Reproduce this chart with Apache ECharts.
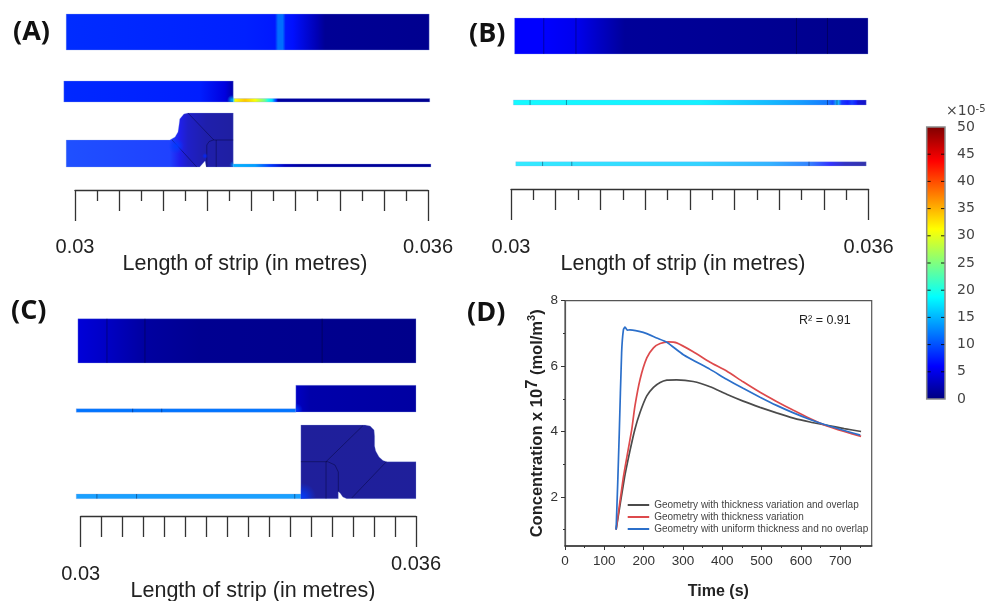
<!DOCTYPE html>
<html><head><meta charset="utf-8">
<style>html,body{margin:0;padding:0;background:#fff}#c{width:989px;height:601px}</style>
<script src="https://cdn.jsdelivr.net/npm/echarts@6/dist/echarts.min.js"></script>
</head><body><div id="c"></div>
<script>
// ---------- Panel D: concentration curves (time s, concentration x10^7 mol/m3) ----------
const SERIES_NAMES = ['Geometry with thickness variation and overlap','Geometry with thickness variation','Geometry with uniform thickness and no overlap'];
const CURVE_OVERLAP = [[130,1],[151,2.57],[165,3.4],[178,4.08],[191,4.59],[208,5.09],[225,5.35],[242,5.5],[259,5.57],[284,5.58],[326,5.53],[369,5.37],[411,5.14],[453,4.93],[496,4.74],[538,4.57],[581,4.41],[623,4.29],[666,4.19],[710,4.09],[753,4.0]];
const CURVE_VARIATION = [[130,1],[148,2.57],[160,3.4],[170,4.08],[178,4.79],[191,5.6],[208,6.25],[225,6.56],[242,6.69],[263,6.74],[284,6.71],[326,6.44],[369,6.12],[411,5.85],[453,5.52],[496,5.2],[538,4.92],[581,4.65],[623,4.4],[666,4.17],[710,4.0],[753,3.85]];
const CURVE_UNIFORM = [[130,1],[134,2.4],[138,3.95],[144,6.41],[148.5,7.11],[152.7,7.19],[158.6,7.10],[165,7.11],[199,7.03],[233,6.86],[259,6.73],[301,6.35],[369,5.9],[411,5.6],[453,5.32],[496,5.05],[538,4.8],[581,4.57],[623,4.37],[666,4.19],[710,4.03],[751,3.89]];
const D_X_TICKS = [0,100,200,300,400,500,600,700];
const D_X_MINOR = [50,150,250,350,450,550,650,750];
const D_Y_TICKS = [2,4,6,8];
const D_Y_MINOR = [1,3,5,7];

// ---------- Rulers (metres) ----------
const RULER_ENDS = [0.03,0.036];
const RULER_MEDIUM = [0.03075,0.0315,0.03225,0.033,0.03375,0.0345,0.03525];
const RULER_SHORT = [0.030375,0.031125,0.031875,0.032625,0.033375,0.034125,0.034875,0.035625];

// ---------- Colour scale ticks ----------
const SCALE_TICKS = [5,10,15,20,25,30,35,40,45];
const JET_VALUES = [0,6,18.75,31.25,43.75,50];

// ---------- Panel A geometry: x in mm along the strip, y in drawing units; values x10^-5 ----------
const A1_OUTLINE = [[29.85,14],[36.02,14],[36.02,50],[29.85,50]];
const A1_X = [29.85,32.9,33.40,33.45,33.53,33.58,33.7,34.11,34.25,36.02];
const A1_V = [8.2,7.6,7.2,11.5,11.5,7.2,6.8,2.5,1,0.7];
const A2_THICK_OUTLINE = [[29.81,81],[32.69,81],[32.69,102],[29.81,102]];
const A2_THICK_X = [29.81,32.12,32.55,32.69];
const A2_THICK_V = [8,7.5,4.5,2];
const A2_THIN_OUTLINE = [[32.69,98.5],[36.03,98.5],[36.03,102],[32.69,102]];
const A2_THIN_X = [32.69,32.72,32.89,33.06,33.23,33.28,33.35,33.42,33.45,36.03];
const A2_THIN_V = [20,31,34,31,24,20,17,8,1.5,0.8];
const A3_OUTLINE = [[29.85,140],[31.61,140],[31.70,137],[31.75,132],[31.77,124],[31.78,119],[31.85,114],[31.92,113],[32.69,113],[32.69,167],[32.23,167],[32.21,161],[32.18,163],[32.12,167],[29.85,167]];
const A3_X = [29.85,31.61,31.78,31.92,32.23,32.69];
const A3_V = [8.8,8,5,3,1.5,1];
const A3_THIN_OUTLINE = [[32.69,164],[36.05,164],[36.05,167],[32.69,167]];
const A3_THIN_X = [32.69,33.06,33.31,33.57,33.82,36.05];
const A3_THIN_V = [15,14,9,3,1.5,1];
const A3_MESH = [[[31.65,140],[32.07,167]],[[31.92,113],[32.36,140]],[[32.24,167],[32.24,145],[32.28,141.5],[32.35,140],[32.69,140]],[[32.40,140],[32.40,167]]];
// glow: centre x, y, radius, value, then the box it stays inside
const A_GLOWS = [[32.67,100,5,15,32.55,95,32.69,102],[32.69,165,4,13,32.6,160,32.69,167],[32.21,156,3,8,32.15,152,32.27,160],[31.72,146,8,9,31.6,140,31.85,156]];

// ---------- Panel B ----------
const B1_OUTLINE = [[30.06,18],[35.99,18],[35.99,54],[30.06,54]];
const B1_X = [30.06,30.55,31.09,31.49,31.91,35.99];
const B1_V = [6,6,5.2,3.2,1.2,0.6];
const B1_MESH = [[[30.55,18],[30.55,54]],[[31.09,18],[31.09,54]],[[34.79,18],[34.79,54]],[[35.31,18],[35.31,54]]];
const B2_OUTLINE = [[30.04,100],[35.96,100],[35.96,105],[30.04,105]];
const B2_X = [30.04,33.17,34.35,34.85,35.31,35.40,35.47,35.49,35.55,35.65,35.72,35.79,35.82,35.96];
const B2_V = [18.5,18,15,13.5,11.5,9,15,15,8,6.5,8.5,6.5,4,3];
const B2_MESH = [[[30.32,100],[30.32,105]],[[30.93,100],[30.93,105]],[[35.31,100],[35.31,105]],[[35.47,100],[35.47,105]]];
const B3_OUTLINE = [[30.08,161.7],[35.96,161.7],[35.96,166],[30.08,166]];
const B3_X = [30.08,33.17,34.35,35.0,35.35,35.60,35.96];
const B3_V = [17.5,16,14,11,6,2.5,1];
const B3_MESH = [[[30.53,161.7],[30.53,166]],[[31.02,161.7],[31.02,166]],[[35.0,161.7],[35.0,166]]];

// ---------- Panel C ----------
const C1_OUTLINE = [[29.95,318.7],[36,318.7],[36,363],[29.95,363]];
const C1_X = [29.95,30.47,31.15,32.13,36];
const C1_V = [4.2,3.2,1.5,0.8,0.5];
const C1_MESH = [[[30.47,318.7],[30.47,363]],[[31.15,318.7],[31.15,363]],[[34.32,318.7],[34.32,363]]];
const C2_THIN_OUTLINE = [[29.92,408.7],[33.85,408.7],[33.85,412.3],[29.92,412.3]];
const C2_THIN_X = [29.92,33.85];
const C2_THIN_V = [11.8,11.8];
const C2_THIN_MESH = [[[30.93,408.7],[30.93,412.3]],[[31.45,408.7],[31.45,412.3]]];
const C2_THICK_OUTLINE = [[33.85,385.3],[36,385.3],[36,412],[33.85,412]];
const C2_THICK_X = [33.85,34.10,36];
const C2_THICK_V = [3.2,2,1.6];
const C3_THIN_OUTLINE = [[29.92,494],[33.94,494],[33.94,498.7],[29.92,498.7]];
const C3_THIN_X = [29.92,33.94];
const C3_THIN_V = [13.5,13.5];
const C3_THIN_MESH = [[[30.29,494],[30.29,498.7]],[[31.0,494],[31.0,498.7]],[[33.83,494],[33.83,498.7]],[[33.95,494],[33.95,498.7]]];
const C3_OUTLINE = [[33.94,425],[35.09,425],[35.18,426],[35.25,430],[35.26,436],[35.26,446],[35.28,451],[35.34,457],[35.41,460.5],[35.48,461.7],[36,461.7],[36,498.7],[34.76,498.7],[34.69,497],[34.64,493],[34.61,491.7],[34.61,498.7],[33.94,498.7]];
const C3_X = [33.94,36];
const C3_V = [0.6,0.6];
const C3_MESH = [[[35.05,425.7],[34.39,461.7]],[[33.94,461.7],[34.42,461.7],[34.55,465],[34.61,472],[34.61,491.7]],[[34.39,461.7],[34.39,498.7]],[[35.47,461.7],[34.85,498]]];
const C_GLOWS = [[33.96,497,14,9,33.94,480,34.3,498.7],[33.85,410,7,9,33.85,402,33.98,412]];

// ---------- helpers ----------
const JET_RGB = [[0,0,128],[0,0,255],[0,255,255],[255,255,0],[255,0,0],[128,0,0]];
function jet(v){
  let i=0; while(i<JET_VALUES.length-2 && v>JET_VALUES[i+1]) i++;
  const t=Math.max(0,Math.min(1,(v-JET_VALUES[i])/(JET_VALUES[i+1]-JET_VALUES[i])));
  const c=JET_RGB[i].map((a,k)=>Math.round(a+(JET_RGB[i+1][k]-a)*t));
  return 'rgb('+c.join(',')+')';
}
function jetA(v,a){return jet(v).replace('rgb','rgba').replace(')',','+a+')');}
const mk=(outline,xs,vs,mesh,opacity)=>({outline,xs,vs,mesh:mesh||[],opacity:opacity||1});

const panelA=[mk(A1_OUTLINE,A1_X,A1_V),mk(A2_THICK_OUTLINE,A2_THICK_X,A2_THICK_V),mk(A2_THIN_OUTLINE,A2_THIN_X,A2_THIN_V),
  mk(A3_OUTLINE,A3_X,A3_V,A3_MESH,0.88),mk(A3_THIN_OUTLINE,A3_THIN_X,A3_THIN_V)];
const panelB=[mk(B1_OUTLINE,B1_X,B1_V,B1_MESH),mk(B2_OUTLINE,B2_X,B2_V,B2_MESH,0.92),mk(B3_OUTLINE,B3_X,B3_V,B3_MESH,0.8)];
const panelC=[mk(C1_OUTLINE,C1_X,C1_V,C1_MESH),mk(C2_THIN_OUTLINE,C2_THIN_X,C2_THIN_V,C2_THIN_MESH),mk(C2_THICK_OUTLINE,C2_THICK_X,C2_THICK_V),
  mk(C3_THIN_OUTLINE,C3_THIN_X,C3_THIN_V,C3_THIN_MESH,0.9),mk(C3_OUTLINE,C3_X,C3_V,C3_MESH,0.88)];

function stripSeries(shapes,glows){
  return {type:'custom',coordinateSystem:'cartesian2d',silent:true,z:2,
    data:shapes.map((s,i)=>[i]).concat(glows.map((g,i)=>[shapes.length+i])),
    renderItem(params,api){
      const i=api.value(0);
      if(i>=shapes.length){
        const g=glows[i-shapes.length], p=api.coord([g[0],g[1]]);
        const a=api.coord([g[4],g[5]]), b=api.coord([g[6],g[7]]);
        return {type:'rect',shape:{x:a[0],y:a[1],width:b[0]-a[0],height:b[1]-a[1]},style:{fill:new echarts.graphic.RadialGradient(p[0],p[1],g[2],
          [{offset:0,color:jetA(g[3],0.95)},{offset:1,color:jetA(g[3],0)}],true)}};
      }
      const s=shapes[i];
      const x0=api.coord([s.xs[0],0])[0], x1=api.coord([s.xs[s.xs.length-1],0])[0];
      const stops=s.xs.map((x,k)=>({offset:(x-s.xs[0])/(s.xs[s.xs.length-1]-s.xs[0]),color:jet(s.vs[k])}));
      const children=[{type:'polygon',shape:{points:s.outline.map(p=>api.coord(p))},
        style:{fill:new echarts.graphic.LinearGradient(x0,0,x1,0,stops,true),stroke:'rgba(150,170,230,0.45)',lineWidth:0.7,opacity:s.opacity}}];
      s.mesh.forEach(m=>children.push({type:'polyline',shape:{points:m.map(p=>api.coord(p))},style:{fill:'none',stroke:'rgba(0,0,40,0.5)',lineWidth:0.8}}));
      return {type:'group',children};
    }};
}

// ---------- layout ----------
const grids=[],xAxes=[],yAxes=[],series=[];
function addStrips(left,width,height,shapes,glows){
  const g=grids.length; grids.push({left,width,top:0,height});
  xAxes.push({gridIndex:g,type:'value',show:false,min:30,max:36});
  yAxes.push({gridIndex:g,type:'value',show:false,min:0,max:height,inverse:true});
  const s=stripSeries(shapes,glows); s.xAxisIndex=xAxes.length-1; s.yAxisIndex=yAxes.length-1; series.push(s);
}
const TICK='#333', LABEL='#222';
function addRuler(left,width,top,labels,short){
  const g=grids.length; grids.push({left,width,top:top-1,height:1});
  yAxes.push({gridIndex:g,type:'value',show:false,min:0,max:1});
  const base={gridIndex:g,type:'value',min:0.03,max:0.036,position:'bottom',splitLine:{show:false},axisLine:{show:false}};
  const tick=(vals,len)=>({show:true,length:len,customValues:vals,lineStyle:{color:TICK,width:1.3}});
  labels.forEach((l,i)=>xAxes.push(Object.assign({},base,{axisTick:i===0?tick(RULER_ENDS,31):{show:false},
    axisLine:{show:i===0,onZero:false,lineStyle:{color:TICK,width:1.3}},
    axisLabel:{show:true,customValues:l.values,margin:l.margin,fontFamily:'Liberation Sans',fontSize:20,color:LABEL,formatter:v=>String(v),hideOverlap:false,showMinLabel:true,showMaxLabel:true}})));
  xAxes.push(Object.assign({},base,{axisTick:tick(RULER_MEDIUM,21),axisLabel:{show:false}}));
  xAxes.push(Object.assign({},base,{axisTick:tick(RULER_SHORT,short),axisLabel:{show:false}}));
}
addStrips(75,353,180,panelA,A_GLOWS);
addRuler(75,353,190,[{values:RULER_ENDS,margin:47}],11);
addStrips(511,357.6,180,panelB,[]);
addRuler(511,357.6,189,[{values:RULER_ENDS,margin:48}],11);
addStrips(80.7,335.3,510,panelC,C_GLOWS);
addRuler(80.7,335.3,516,[{values:[0.03],margin:48},{values:[0.036],margin:38}],21);

// Panel D
const gD=grids.length;
grids.push({left:565,top:300.7,width:306.7,height:247,show:true,borderColor:'#555',borderWidth:1.2,backgroundColor:'transparent'});
const dx=xAxes.length;
const dAxisFont={fontFamily:'Liberation Sans',fontSize:13.5,color:'#333'};
xAxes.push({gridIndex:gD,type:'value',min:0,max:780,position:'bottom',splitLine:{show:false},
  axisLine:{show:true,onZero:false,lineStyle:{color:'#333',width:1.5}},
  axisTick:{show:true,length:4,customValues:D_X_TICKS,lineStyle:{color:'#333'}},
  axisLabel:Object.assign({show:true,customValues:D_X_TICKS,margin:8,showMaxLabel:true},dAxisFont),
  name:'Time (s)',nameLocation:'middle',nameGap:38,nameTextStyle:{fontFamily:'Liberation Sans',fontWeight:'bold',fontSize:16,color:'#222'}});
xAxes.push({gridIndex:gD,type:'value',min:0,max:780,position:'bottom',splitLine:{show:false},axisLine:{show:false},
  axisTick:{show:true,length:2,customValues:D_X_MINOR,lineStyle:{color:'#333'}},axisLabel:{show:false}});
const dy=yAxes.length;
yAxes.push({gridIndex:gD,type:'value',min:0.5,max:8,position:'left',splitLine:{show:false},
  axisLine:{show:true,onZero:false,lineStyle:{color:'#555',width:1.2}},
  axisTick:{show:true,length:4,customValues:D_Y_TICKS,lineStyle:{color:'#333'}},
  axisLabel:Object.assign({show:true,customValues:D_Y_TICKS,margin:7},dAxisFont),
  name:'{b|Concentration x 10}{s|7}{b| (mol/m}{t|3}{b|)}',nameLocation:'middle',nameGap:17,nameRotate:90,
  nameTextStyle:{rich:{
    b:{fontFamily:'Liberation Sans',fontWeight:'bold',fontSize:16.5,color:'#222',height:22,verticalAlign:'bottom'},
    s:{fontFamily:'Liberation Sans',fontWeight:'bold',fontSize:16.5,color:'#222',height:22,verticalAlign:'top',padding:[0,0,5,0]},
    t:{fontFamily:'Liberation Sans',fontWeight:'bold',fontSize:11,color:'#222',height:22,verticalAlign:'top'}}}});
yAxes.push({gridIndex:gD,type:'value',min:0.5,max:8,position:'left',splitLine:{show:false},axisLine:{show:false},
  axisTick:{show:true,length:2,customValues:D_Y_MINOR,lineStyle:{color:'#333'}},axisLabel:{show:false}});
[[CURVE_OVERLAP,'#4b4b4b'],[CURVE_VARIATION,'#dd4a4c'],[CURVE_UNIFORM,'#2b6fca']].forEach((c,i)=>{
  series.push({type:'line',name:SERIES_NAMES[i],data:c[0],xAxisIndex:dx,yAxisIndex:dy,smooth:0.2,showSymbol:false,silent:true,z:3+i,
    lineStyle:{color:c[1],width:1.7},itemStyle:{color:c[1]}});
});

// Colour scale
const gS=grids.length;
grids.push({left:926.7,top:127,width:18.3,height:272,show:true,borderColor:'#8a8a8a',borderWidth:1.5,backgroundColor:'transparent',z:5});
const sx=xAxes.length; xAxes.push({gridIndex:gS,type:'value',show:false,min:0,max:1});
const sy=yAxes.length;
yAxes.push({gridIndex:gS,type:'value',min:0,max:50,interval:5,position:'right',splitLine:{show:false},axisLine:{show:false},axisTick:{show:false},
  axisLabel:{show:true,margin:12,fontFamily:'DejaVu Sans',fontSize:14,color:'#444'}});
series.push({type:'custom',coordinateSystem:'cartesian2d',xAxisIndex:sx,yAxisIndex:sy,silent:true,z:2,data:[[0,50]],
  renderItem(params,api){
    const a=api.coord([0,api.value(1)]), b=api.coord([1,api.value(0)]);
    return {type:'rect',shape:{x:a[0],y:a[1],width:b[0]-a[0],height:b[1]-a[1]},
      style:{fill:new echarts.graphic.LinearGradient(0,0,0,1,JET_VALUES.map(v=>({offset:1-v/50,color:jet(v)})).reverse())}};
  }});
series.push({type:'custom',coordinateSystem:'cartesian2d',xAxisIndex:sx,yAxisIndex:sy,silent:true,z:3,data:SCALE_TICKS.map(v=>[v]),
  renderItem(params,api){
    const a=api.coord([0,api.value(0)]), b=api.coord([1,api.value(0)]);
    const seg=(x1,x2)=>({type:'line',shape:{x1,y1:a[1],x2,y2:a[1]},style:{stroke:'rgba(0,0,0,0.85)',lineWidth:1}});
    return {type:'group',children:[seg(a[0],a[0]+4),seg(b[0]-4,b[0])]};
  }});

const panelFont='bold 27px "Open Sans"';
const nameFont='21.5px "Liberation Sans"';
const text=(x,y,t,font,fill,align)=>({type:'text',x,y,z:20,silent:true,style:{text:t,font,fill:fill||'#111',textAlign:align||'left',textVerticalAlign:'middle'}});
const graphic=[
  text(13,32,'(A)',panelFont),text(469,34,'(B)',panelFont),text(11,311,'(C)',panelFont),text(467,313,'(D)',panelFont),
  text(245,264,'Length of strip (in metres)',nameFont,LABEL,'center'),
  text(683,264,'Length of strip (in metres)',nameFont,LABEL,'center'),
  text(253,591,'Length of strip (in metres)',nameFont,LABEL,'center'),
  text(799,321,'R\u00B2 = 0.91','12.5px "Liberation Sans"','#222'),
  {type:'text',x:946,y:111,z:20,silent:true,style:{text:'{a|\u00D710}{b|-5}',textVerticalAlign:'middle',rich:{a:{font:'14px "DejaVu Sans"',fill:'#444',color:'#444'},b:{font:'10px "DejaVu Sans"',fill:'#444',color:'#444',verticalAlign:'top'}}}}
];

const chart=echarts.init(document.getElementById('c'),null,{renderer:'canvas'});
chart.setOption({animation:false,backgroundColor:'#fff',grid:grids,xAxis:xAxes,yAxis:yAxes,series,graphic,
  legend:{show:true,data:SERIES_NAMES,orient:'vertical',left:627.7,top:499,padding:0,icon:'rect',itemWidth:21.5,itemHeight:2,itemGap:0,selectedMode:false,
    textStyle:{fontFamily:'Liberation Sans',fontSize:10,color:'#444',lineHeight:12}}});
</script></body></html>
